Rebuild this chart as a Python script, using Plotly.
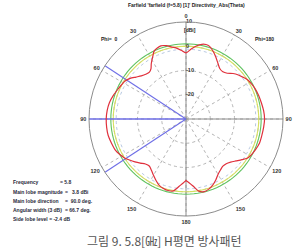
import plotly.graph_objects as go

# ---------------- data ----------------
# Phi = 180 side (right half), theta in degrees, directivity in dBi
theta_phi180 = [0, 4, 8, 12, 15, 18, 22, 26, 30, 34, 38, 42, 46, 50, 54, 58, 62, 66, 72, 78, 84, 90,
                96, 102, 108, 114, 118, 122, 126, 130, 134, 138, 142, 146, 150, 154, 158, 162, 166,
                170, 174, 177, 180]
dir_phi180 = [-2.7, -1.2, 0.4, 1.5, 1.8, 1.5, 0.0, -1.8, -3.6, -5.0, -5.3, -4.6, -3.0, -1.8, -0.8, 0.2,
              0.7, 1.1, 1.5, 1.8, 2.2, 2.4, 2.2, 2.0, 1.9, 1.3, 0.8, 0.2, -1.5, -3.1, -4.4, -5.2, -5.3,
              -4.6, -3.6, -2.0, -0.6, 0.4, 0.9, 0.2, -2.2, -3.6, -4.6]

# Phi = 0 side (left half)
theta_phi0 = [0, 4, 8, 11, 15, 19, 22, 25, 28, 32, 35, 38, 42, 46, 50, 54, 58, 62, 66, 72, 78, 84, 90,
              96, 102, 108, 114, 118, 122, 126, 130, 134, 138, 142, 146, 150, 154, 158, 162, 166, 170,
              174, 177, 180]
dir_phi0 = [-2.7, -1.6, -0.4, 0.2, 1.3, 1.9, 1.6, 1.0, -0.8, -3.0, -4.8, -5.5, -5.2, -4.4, -3.1, -1.5,
            -0.4, 0.1, 0.6, 1.5, 2.3, 2.7, 2.9, 2.9, 2.8, 2.3, 1.8, 1.0, 0.1, -1.2, -2.5, -3.8, -5.0,
            -5.4, -4.5, -3.2, -1.8, -0.5, 0.1, 0.4, 0.1, -2.0, -3.4, -4.6]

# reference circles (dBi)
green_level = 1.0
yellow_level = 0.0
lightblue_level = -1.2

# main lobe info
frequency = 5.8
main_lobe_mag = 3.8
main_lobe_dir = 90.0
angular_width = 66.7
side_lobe_level = -2.4

r_min, r_max = -30, 10
radial_ticks = [-20, -10, 0, 10]
radial_ticktext = ["-20", "-10", "0", "10"]
angle_tickvals = [0, 30, 60, 90, 120, 150, 180, 210, 240, 270, 300, 330]
angle_ticktext = ["0", "30", "60", "90", "120", "150", "180", "150", "120", "90", "60", "30"]

# ---------------- build ----------------
# left half (phi=0) drawn counter-clockwise from the top, right half (phi=180) clockwise
theta_full = [360 - t for t in theta_phi0] + theta_phi180[::-1]
dir_full = dir_phi0 + dir_phi180[::-1]

circle_theta = list(range(0, 361, 3))

fig = go.Figure()

grey = "#8c8c8c"
# axis lines through the centre
fig.add_trace(go.Scatterpolar(theta=[0, 0, 180], r=[r_max, r_min, r_max], mode="lines",
                              line=dict(color=grey, width=1), hoverinfo="skip", showlegend=False))
fig.add_trace(go.Scatterpolar(theta=[90, 90], r=[r_max, r_min], mode="lines",
                              line=dict(color=grey, width=1), hoverinfo="skip", showlegend=False))

# reference circles
fig.add_trace(go.Scatterpolar(theta=circle_theta, r=[lightblue_level] * len(circle_theta), mode="lines",
                              line=dict(color="#b8c8e0", width=1, dash="dot"), hoverinfo="skip",
                              showlegend=False))
fig.add_trace(go.Scatterpolar(theta=circle_theta, r=[yellow_level] * len(circle_theta), mode="lines",
                              line=dict(color="#d6e060", width=1.1), hoverinfo="skip", showlegend=False))
fig.add_trace(go.Scatterpolar(theta=circle_theta, r=[green_level] * len(circle_theta), mode="lines",
                              line=dict(color="#5ec25e", width=1.1), hoverinfo="skip", showlegend=False))

# main lobe direction & angular width lines (phi = 0 side -> left)
blue = "#6e6ee6"
for ang, w in [(main_lobe_dir, 1.4), (main_lobe_dir - angular_width / 2, 1.1),
               (main_lobe_dir + angular_width / 2, 1.1)]:
    fig.add_trace(go.Scatterpolar(theta=[360 - ang, 360 - ang], r=[r_min, r_max], mode="lines",
                                  line=dict(color=blue, width=w), hoverinfo="skip", showlegend=False))

# directivity pattern
fig.add_trace(go.Scatterpolar(theta=theta_full, r=dir_full, mode="lines",
                              line=dict(color="#e0303c", width=1.2, shape="spline", smoothing=0.8),
                              showlegend=False))

# radial tick labels just right of the vertical axis
fig.add_trace(go.Scatterpolar(theta=[0] * len(radial_ticks), r=radial_ticks, mode="text",
                              text=[f"<b>{t}</b>" for t in radial_ticktext], textposition="middle right",
                              textfont=dict(size=5.5, family="Liberation Sans", color="#333"),
                              hoverinfo="skip", showlegend=False, cliponaxis=False))

W, H = 293, 252
cx, cy, R = 186, 119, 97
fig.update_layout(
    width=W, height=H, margin=dict(l=0, r=0, t=0, b=0),
    paper_bgcolor="white", plot_bgcolor="white",
    showlegend=False,
    polar=dict(
        domain=dict(x=[(cx - R) / W, (cx + R) / W], y=[(H - cy - R) / H, (H - cy + R) / H]),
        bgcolor="white",
        angularaxis=dict(rotation=90, direction="clockwise", tickmode="array",
                         tickvals=angle_tickvals, ticktext=[f"<b>{t}</b>" for t in angle_ticktext],
                         showline=True, linecolor=grey, linewidth=1,
                         gridcolor="#b4b4b4", griddash="dot",
                         ticks="outside", ticklen=1, tickcolor="rgba(0,0,0,0)",
                         tickfont=dict(size=5.5, family="Liberation Sans", color="#333")),
        radialaxis=dict(range=[r_min, r_max], tickvals=radial_ticks, showticklabels=False,
                        angle=90, showline=False, gridcolor="#b4b4b4", griddash="dot", ticks=""),
    ),
)

def txt(x, y, s, size=5, color="#222", anchor="left", family="Liberation Sans"):
    fig.add_annotation(x=x / W, y=1 - y / H, xref="paper", yref="paper", text=s, showarrow=False,
                       xanchor=anchor, yanchor="middle",
                       font=dict(size=size, color=color, family=family))

txt(187, 5, "<b>Farfield 'farfield (f=5.8) [1]' Directivity_Abs(Theta)</b>", size=5, anchor="center")
txt(109, 39, "<b>Phi=  0</b>", size=5, anchor="center")
txt(264, 39, "<b>Phi=180</b>", size=5, anchor="center")
txt(190, 30, "<b>[dBi]</b>", size=5, anchor="center")

info = [
    ("Frequency", f"= {frequency}", 58),
    ("Main lobe magnitude", f"=   {main_lobe_mag} dBi", 63),
    ("Main lobe direction", f"=  {main_lobe_dir} deg.", 63),
    ("Angular width (3 dB)", f"= {angular_width} deg.", 63),
]
ys = [182, 192, 201, 210, 219]
for (lab, val, vx), y in zip(info, ys):
    txt(11, y, f"<b>{lab}</b>", size=5, color="#2a2a3a")
    txt(vx, y, f"<b>{val}</b>", size=5, color="#2a2a3a")
txt(11, ys[4], f"<b>Side lobe level = {side_lobe_level} dB</b>", size=5, color="#2a2a3a")

txt(164, 240, "그림 9. 5.8[㎓] H평면 방사패턴", size=12, color="#555",
    anchor="center", family="Noto Sans CJK KR")

fig.write_html("out.html")
